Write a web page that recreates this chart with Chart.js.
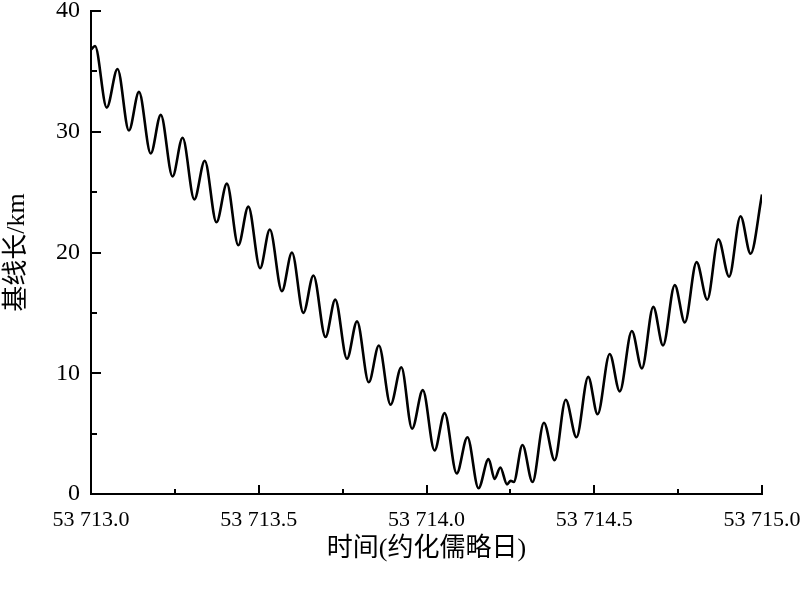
<!DOCTYPE html>
<html>
<head>
<meta charset="utf-8">
<script src="https://cdn.jsdelivr.net/npm/chart.js@4/dist/chart.umd.min.js"></script>
<style>
  html, body { margin: 0; padding: 0; background: #fff; }
  #wrap { width: 800px; height: 591px; position: relative; }
</style>
</head>
<body>
<div id="wrap"><canvas id="baselineChart"></canvas></div>
<script>
// Time (MJD) of the points: peaks, troughs and ends
const mjd = [
  53713.000, 53713.012, 53713.047, 53713.079, 53713.113, 53713.143, 53713.178, 53713.208,
  53713.243, 53713.273, 53713.308, 53713.339, 53713.374, 53713.405, 53713.439, 53713.469,
  53713.504, 53713.533, 53713.569, 53713.599, 53713.633, 53713.663, 53713.699, 53713.728,
  53713.763, 53713.793, 53713.828, 53713.858, 53713.893, 53713.925, 53713.957, 53713.989,
  53714.024, 53714.054, 53714.090, 53714.122, 53714.155, 53714.185, 53714.203, 53714.220,
  53714.240, 53714.251, 53714.260, 53714.286, 53714.316, 53714.350, 53714.382, 53714.415,
  53714.447, 53714.482, 53714.510, 53714.546, 53714.576, 53714.612, 53714.642, 53714.676,
  53714.705, 53714.740, 53714.770, 53714.805, 53714.837, 53714.870, 53714.902, 53714.936,
  53714.966, 53715.000
];

// Baseline length in km
const baselineKm = [
  36.8, 37.1, 32.0, 35.2, 30.1, 33.3, 28.2, 31.4,
  26.3, 29.5, 24.4, 27.6, 22.5, 25.7, 20.6, 23.8,
  18.7, 21.9, 16.8, 20.0, 15.0, 18.1, 13.0, 16.1,
  11.2, 14.3, 9.25, 12.3, 7.4, 10.5, 5.4, 8.6,
  3.6, 6.7, 1.7, 4.7, 0.47, 2.9, 1.25, 2.2,
  0.8, 1.1, 1.0, 4.06, 1.0, 5.9, 2.8, 7.8,
  4.7, 9.7, 6.6, 11.6, 8.5, 13.5, 10.4, 15.5,
  12.3, 17.3, 14.2, 19.2, 16.1, 21.1, 18.0, 23.0,
  19.9, 24.8
];

const xTitle = '时间(约化儒略日)';
const yTitle = '基线长/km';

const points = mjd.map((x, i) => ({ x: x, y: baselineKm[i] }));

// tick marks drawn inside the axes, like the original figure
const insideTicks = {
  id: 'insideTicks',
  afterDraw(chart) {
    const ctx = chart.ctx;
    const xs = chart.scales.x;
    const ys = chart.scales.y;
    ctx.save();
    ctx.strokeStyle = '#000';
    ctx.lineWidth = 2;
    xs.ticks.forEach(t => {
      const px = Math.round(xs.getPixelForValue(t.value));
      const major = Math.abs(t.value * 2 - Math.round(t.value * 2)) < 1e-6;
      const len = major ? 9 : 5;
      ctx.beginPath();
      ctx.moveTo(px, ys.bottom);
      ctx.lineTo(px, ys.bottom - len);
      ctx.stroke();
    });
    ys.ticks.forEach(t => {
      const py = Math.round(ys.getPixelForValue(t.value));
      const len = (t.value % 10 === 0) ? 10 : 6;
      ctx.beginPath();
      ctx.moveTo(xs.left, py);
      ctx.lineTo(xs.left + len, py);
      ctx.stroke();
    });
    ctx.restore();
  }
};

const serif = "'Liberation Serif', 'Times New Roman', serif";
const cjk = "'Liberation Serif', 'Noto Sans CJK SC', serif";

new Chart(document.getElementById('baselineChart'), {
  type: 'line',
  data: {
    datasets: [{
      data: points,
      borderColor: '#000',
      borderWidth: 2.6,
      pointRadius: 0,
      fill: false,
      cubicInterpolationMode: 'monotone'
    }]
  },
  options: {
    responsive: true,
    maintainAspectRatio: false,
    animation: false,
    layout: { padding: { top: 11, right: 38, bottom: 0, left: 0 } },
    plugins: {
      legend: { display: false },
      tooltip: { enabled: false }
    },
    scales: {
      x: {
        type: 'linear',
        min: 53713,
        max: 53715,
        afterFit: scale => {
          scale.height = 97;
          scale.paddingLeft = 0;
          scale.paddingRight = 0;
        },
        border: { color: '#000', width: 2 },
        grid: { drawOnChartArea: false, drawTicks: false },
        ticks: {
          stepSize: 0.25,
          autoSkip: false,
          maxRotation: 0,
          padding: 13,
          color: '#000',
          font: { family: serif, size: 22 },
          callback: v => {
            if (Math.abs(v * 2 - Math.round(v * 2)) > 1e-6) return '';
            const s = v.toFixed(1);
            return s.slice(0, 2) + ' ' + s.slice(2);
          }
        },
        title: {
          display: true,
          text: xTitle,
          color: '#000',
          font: { family: cjk, size: 26 },
          padding: { top: 0, bottom: 26 }
        }
      },
      y: {
        min: 0,
        max: 40,
        afterFit: scale => {
          scale.width = 91;
          scale.paddingTop = 0;
          scale.paddingBottom = 0;
        },
        border: { color: '#000', width: 2 },
        grid: { drawOnChartArea: false, drawTicks: false },
        ticks: {
          stepSize: 5,
          autoSkip: false,
          padding: 11,
          color: '#000',
          font: { family: serif, size: 24 },
          callback: v => (v % 10 === 0 ? String(v) : '')
        },
        title: {
          display: true,
          text: yTitle,
          color: '#000',
          font: { family: cjk, size: 26 },
          padding: { top: 2, bottom: 0 }
        }
      }
    }
  },
  plugins: [insideTicks]
});
</script>
</body>
</html>
